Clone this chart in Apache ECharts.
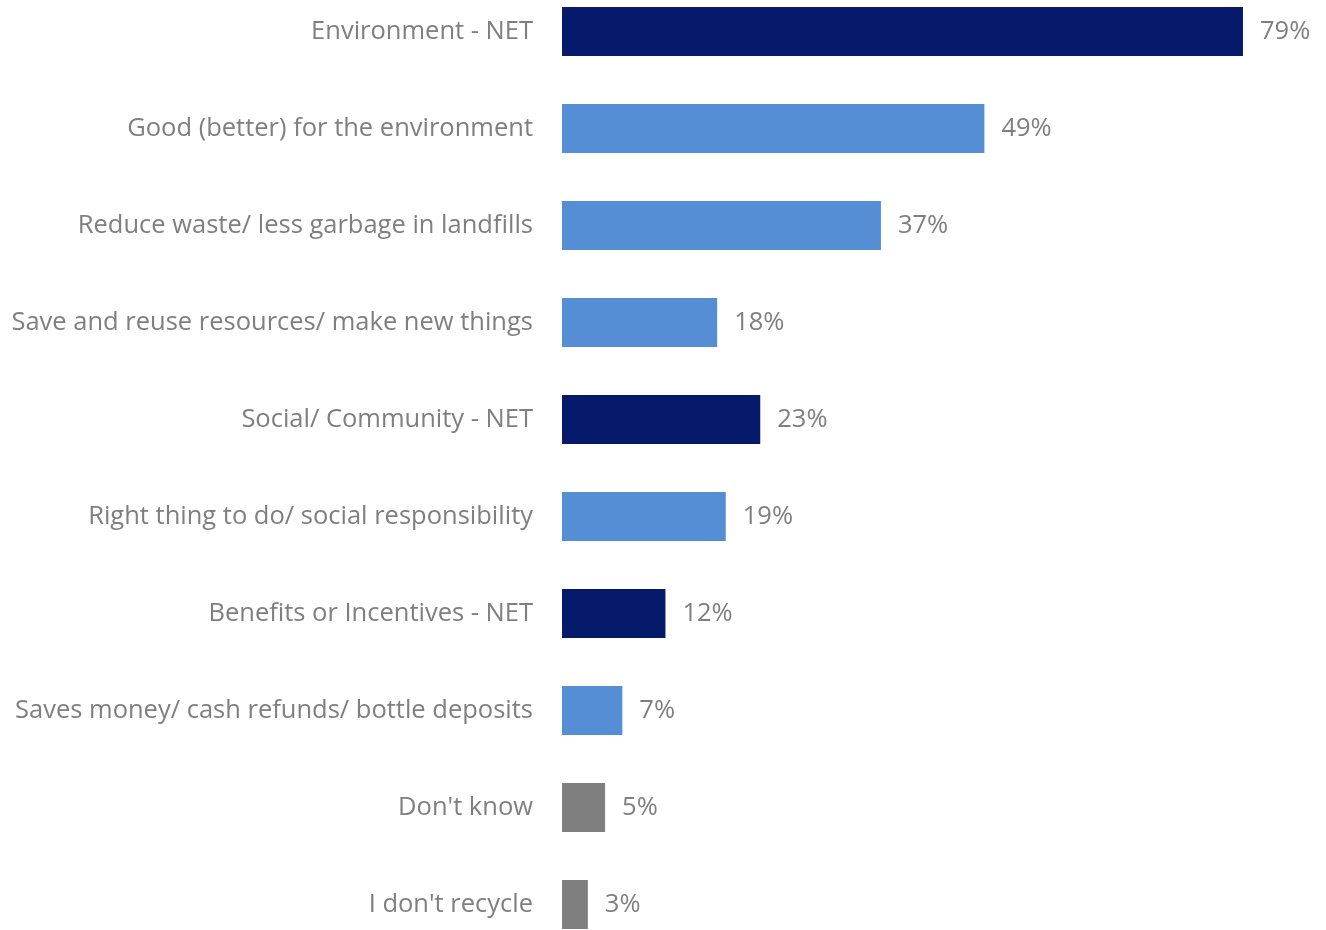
<!DOCTYPE html>
<html>
<head>
<meta charset="utf-8">
<script src="https://cdn.jsdelivr.net/npm/echarts@6/dist/echarts.min.js"></script>
<style>
  html, body { margin: 0; padding: 0; background: #ffffff; }
  #chart { width: 1326px; height: 930px; }
</style>
</head>
<body>
<div id="chart"></div>
<script>
// Reasons given for recycling (share of respondents, %)
const categories = [
  'Environment - NET',
  'Good (better) for the environment',
  'Reduce waste/ less garbage in landfills',
  'Save and reuse resources/ make new things',
  'Social/ Community - NET',
  'Right thing to do/ social responsibility',
  'Benefits or Incentives - NET',
  'Saves money/ cash refunds/ bottle deposits',
  "Don't know",
  "I don't recycle"
];
const values = [79, 49, 37, 18, 23, 19, 12, 7, 5, 3];
// Row kind: net totals, sub-reasons, other answers
const kinds = ['net', 'sub', 'sub', 'sub', 'net', 'sub', 'net', 'sub', 'other', 'other'];

const palette = { net: '#061A6B', sub: '#558ED5', other: '#7F7F7F' };

const chart = echarts.init(document.getElementById('chart'), null, { renderer: 'canvas' });

chart.setOption({
  animation: false,
  grid: {
    left: 562, right: 74.4, top: -17, height: 970,
    containLabel: false,
    outerBoundsMode: 'none'
  },
  xAxis: {
    type: 'value', min: 0, max: 80,
    show: false
  },
  yAxis: {
    type: 'category',
    inverse: true,
    data: categories,
    axisLine: { show: false },
    axisTick: { show: false },
    axisLabel: {
      margin: 29,
      color: '#7F7F7F',
      fontFamily: 'Open Sans',
      fontSize: 25.5
    }
  },
  series: [{
    type: 'bar',
    barWidth: '50.5%',
    data: values.map((v, i) => ({ value: v, itemStyle: { color: palette[kinds[i]] } })),
    label: {
      show: true,
      position: 'right',
      distance: 17,
      formatter: '{c}%',
      color: '#7F7F7F',
      fontFamily: 'Open Sans',
      fontSize: 25.5
    }
  }]
});
</script>
</body>
</html>
